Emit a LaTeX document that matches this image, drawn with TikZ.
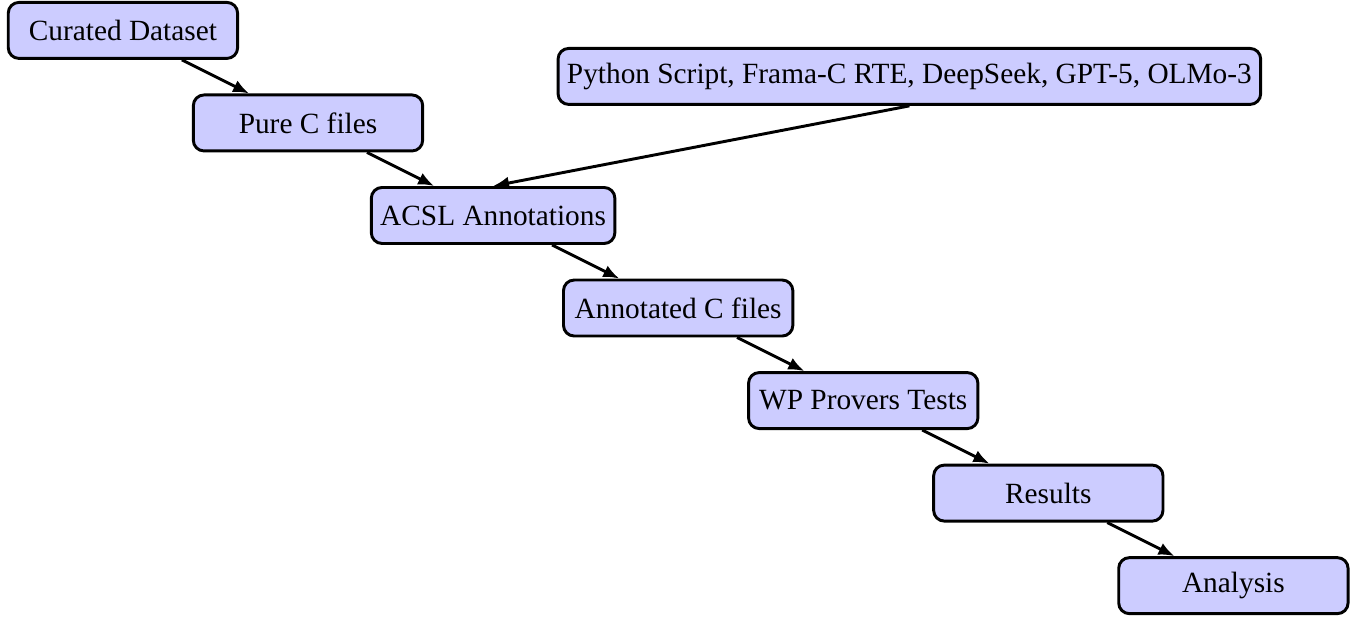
\documentclass[tikz,border=0pt]{standalone}
\usepackage{fontspec}
\setmainfont{Liberation Serif}
\usetikzlibrary{arrows.meta,trees}
\begin{document}
\begin{tikzpicture}[grow via three points={one child at (69.4pt,-34.7pt) and two children at (69.4pt,-34.7pt) and (69.4pt,-69.4pt)},
  every node/.style={draw,line width=1.1pt,fill=blue!20,rounded corners,minimum width=86pt,minimum height=21pt,font=\fontsize{11}{13}\selectfont},
  edge from parent/.style={draw,line width=1.1pt,-{Latex[length=6pt,width=4.8pt]}}]
\useasboundingbox (-46.1pt,11.4pt) rectangle (460.5pt,-219.9pt);
\path
node (cur){Curated Dataset}
child{node (pure){Pure C files}
 child{node (acsl){ACSL Annotations}
 child{node (annot){Annotated C files}
 child{node (wp){WP Provers Tests}
 child{node (res){Results}
 child{node (ana){Analysis}}}}}}}
+(294.9pt,-17.25pt)
node (tools){Python Script, Frama-C RTE, DeepSeek, GPT-5, OLMo-3};
\draw[line width=1.1pt,-{Latex[length=6pt,width=4.8pt]}] (tools.south) -- (acsl.north);
\end{tikzpicture}
\end{document}
